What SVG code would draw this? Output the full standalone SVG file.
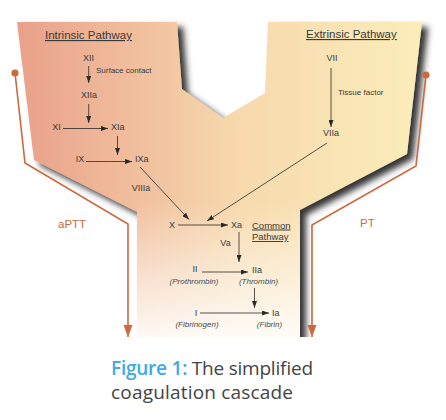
<svg xmlns="http://www.w3.org/2000/svg" width="446" height="420" viewBox="0 0 446 420">
<style>
.n{font-family:"Liberation Sans",Arial,sans-serif;font-size:9px;fill:#3a3a3a}
.s{font-family:"Liberation Sans",Arial,sans-serif;font-size:8px;fill:#3a3a3a}
.i{font-family:"Liberation Sans",Arial,sans-serif;font-size:8px;font-style:italic;fill:#4a4a4a}
.h{font-family:"Liberation Sans",Arial,sans-serif;font-size:11.5px;fill:#3a3a3a;text-decoration:underline}
.c{font-family:"Liberation Sans",Arial,sans-serif;font-size:9.5px;fill:#3a3a3a;text-decoration:underline}
.o{font-family:"Liberation Sans",Arial,sans-serif;font-size:11.5px;fill:#d0683e}
.ln{stroke:#2a2a2a;stroke-width:0.8;fill:none}
.ol{stroke:#d0683e;stroke-width:1.6;fill:none}
.cap{font-family:"Open Sans",Lato,sans-serif;font-size:19px;fill:#444}
</style>
<defs>
<linearGradient id="bg" gradientUnits="userSpaceOnUse" x1="17" y1="0" x2="421" y2="0">
<stop offset="0" stop-color="#e9a189"/>
<stop offset="0.3" stop-color="#f1bf9e"/>
<stop offset="0.55" stop-color="#f7d9ad"/>
<stop offset="1" stop-color="#fbedba"/>
</linearGradient>
<linearGradient id="fade" gradientUnits="userSpaceOnUse" x1="0" y1="200" x2="0" y2="337">
<stop offset="0" stop-color="#ffffff" stop-opacity="0"/>
<stop offset="1" stop-color="#ffffff" stop-opacity="0.9"/>
</linearGradient>
<filter id="sh" x="-10%" y="-10%" width="130%" height="130%">
<feGaussianBlur in="SourceAlpha" stdDeviation="3.2"/>
<feOffset dx="6" dy="5" result="b"/>
<feFlood flood-color="#2a2a2a" flood-opacity="0.95"/>
<feComposite in2="b" operator="in"/>
<feMerge><feMergeNode/><feMergeNode in="SourceGraphic"/></feMerge>
</filter>
<clipPath id="frame"><rect x="0" y="0" width="446" height="337"/></clipPath>
<marker id="a" markerUnits="userSpaceOnUse" markerWidth="7" markerHeight="5" refX="7" refY="2.5" orient="auto">
<path d="M0,0 L7,2.5 L0,5 Z" fill="#2a2a2a"/>
</marker>
<marker id="oa" markerUnits="userSpaceOnUse" markerWidth="10" markerHeight="13" refX="12" refY="4.5" orient="auto">
<path d="M0,0 L12,4.5 L0,9 Z" fill="#d0683e"/>
</marker>
</defs>
<rect width="446" height="420" fill="#ffffff"/>
<g id="background" clip-path="url(#frame)">
<path d="M17,22 L177,22 L182,89 L223,118 L265,93 L268,22 L422,22 L407,154 L300,210 L300,345 L137,345 L137,212 L34,160 Z" fill="url(#bg)" filter="url(#sh)"/>
<path d="M137,200 L300,200 L300,345 L137,345 Z" fill="url(#fade)"/>
</g>
<g id="intrinsic-title"><text class="h" x="45" y="39">Intrinsic Pathway</text></g>
<g id="extrinsic-title"><text class="h" x="306" y="38">Extrinsic Pathway</text></g>
<g id="common-title"><text class="c" x="252" y="228.5">Common</text><text class="c" x="252" y="240">Pathway</text></g>
<g id="XII"><text class="n" x="88.5" y="61" text-anchor="middle">XII</text></g>
<g id="XIIa"><text class="n" x="89" y="98" text-anchor="middle">XIIa</text></g>
<g id="XI"><text class="n" x="56.5" y="130" text-anchor="middle">XI</text></g>
<g id="XIa"><text class="n" x="111" y="130">XIa</text></g>
<g id="IX"><text class="n" x="80" y="162" text-anchor="middle">IX</text></g>
<g id="IXa"><text class="n" x="135" y="162">IXa</text></g>
<g id="VIIIa"><text class="n" x="141" y="191" text-anchor="middle">VIIIa</text></g>
<g id="VII"><text class="n" x="332" y="61" text-anchor="middle">VII</text></g>
<g id="VIIa"><text class="n" x="331" y="136" text-anchor="middle">VIIa</text></g>
<g id="X"><text class="n" x="172" y="228" text-anchor="middle">X</text></g>
<g id="Xa"><text class="n" x="231" y="228">Xa</text></g>
<g id="Va"><text class="n" x="225.5" y="246" text-anchor="middle">Va</text></g>
<g id="II"><text class="n" x="195" y="272" text-anchor="middle">II</text><text class="i" x="194" y="283.5" text-anchor="middle">(Prothrombin)</text></g>
<g id="IIa"><text class="n" x="252" y="272.5">IIa</text><text class="i" x="258.5" y="283.5" text-anchor="middle">(Thrombin)</text></g>
<g id="I"><text class="n" x="196" y="316" text-anchor="middle">I</text><text class="i" x="197" y="326.5" text-anchor="middle">(Fibrinogen)</text></g>
<g id="Ia"><text class="n" x="272" y="316">Ia</text><text class="i" x="269.5" y="326.5" text-anchor="middle">(Fibrin)</text></g>
<g id="labels">
<text class="s" x="96" y="73">Surface contact</text>
<text class="s" x="338" y="95">Tissue factor</text>
</g>
<g id="aPTT"><text class="o" x="58" y="228">aPTT</text></g>
<g id="PT"><text class="o" x="360" y="227">PT</text></g>
<g id="connectors">
<line class="ln" x1="88.7" y1="66" x2="88.7" y2="83" marker-end="url(#a)"/>
<line class="ln" x1="88.7" y1="104" x2="88.7" y2="123" marker-end="url(#a)"/>
<line class="ln" x1="63" y1="128.5" x2="108" y2="128.5" marker-end="url(#a)"/>
<line class="ln" x1="117.5" y1="136" x2="117.5" y2="155" marker-end="url(#a)"/>
<line class="ln" x1="86" y1="161.5" x2="132" y2="161.5" marker-end="url(#a)"/>
<line class="ln" x1="140" y1="167" x2="189" y2="219.5" marker-end="url(#a)"/>
<line class="ln" x1="331" y1="68" x2="331" y2="127" marker-end="url(#a)"/>
<line class="ln" x1="327" y1="143" x2="207" y2="221" marker-end="url(#a)"/>
<line class="ln" x1="178" y1="225" x2="228" y2="225" marker-end="url(#a)"/>
<line class="ln" x1="239" y1="232" x2="239" y2="262" marker-end="url(#a)"/>
<line class="ln" x1="202" y1="272" x2="248" y2="272" marker-end="url(#a)"/>
<line class="ln" x1="254.5" y1="288" x2="254.5" y2="308" marker-end="url(#a)"/>
<line class="ln" x1="200" y1="313" x2="269" y2="313" marker-end="url(#a)"/>
<circle cx="15" cy="73" r="3.6" fill="#d0683e"/>
<polyline class="ol" points="15,73 25,163 128,224 128,337" marker-end="url(#oa)"/>
<circle cx="426" cy="75" r="3.6" fill="#d0683e"/>
<polyline class="ol" points="426,75 416,166 312,225 312,337" marker-end="url(#oa)"/>
</g>
<g id="caption">
<text class="cap" x="111" y="374.5" textLength="202" lengthAdjust="spacing"><tspan fill="#3fa9e6" font-weight="600">Figure 1:</tspan> The simplified</text>
<text class="cap" x="111" y="398.5" textLength="182" lengthAdjust="spacing">coagulation cascade</text>
</g>
</svg>
